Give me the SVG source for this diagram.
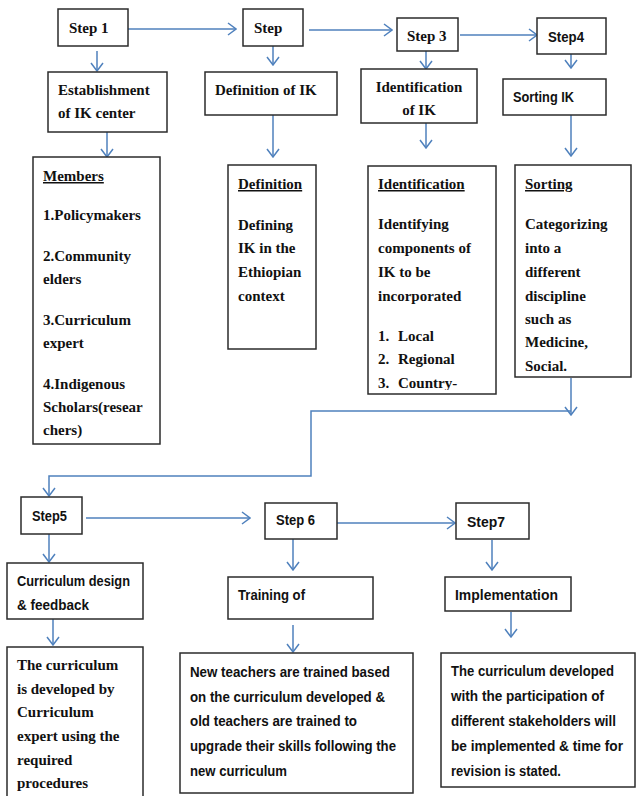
<svg xmlns="http://www.w3.org/2000/svg" width="636" height="796" viewBox="0 0 636 796">
<style>
.box{fill:#ffffff;stroke:#2b2b2b;stroke-width:1.5}
.conn{fill:none;stroke:#4f81bd;stroke-width:1.5}
.t{font-family:"Liberation Serif","Times New Roman",serif;font-weight:bold;font-size:15px;fill:#111}
.s{font-family:"Liberation Sans",Arial,sans-serif;font-weight:bold;font-size:14px;fill:#111}
.u{text-decoration:underline}
</style>
<defs>
<marker id="arr" viewBox="0 0 10 14" refX="9" refY="7" markerWidth="10" markerHeight="14" markerUnits="userSpaceOnUse" orient="auto">
<path d="M1,1 L9,7 L1,13" fill="none" stroke="#4f81bd" stroke-width="1.5"/>
</marker>
<clipPath id="clipIdent"><rect x="368" y="166" width="128" height="224"/></clipPath>
<clipPath id="clipSort"><rect x="515" y="165" width="116" height="207"/></clipPath>
</defs>
<rect width="636" height="796" fill="#ffffff"/>

<g id="connectors">
<path class="conn" d="M128,29 H236" marker-end="url(#arr)"/>
<path class="conn" d="M309,30 H392" marker-end="url(#arr)"/>
<path class="conn" d="M460,35 H537" marker-end="url(#arr)"/>
<path class="conn" d="M97,51 V71" marker-end="url(#arr)"/>
<path class="conn" d="M107,132 V157" marker-end="url(#arr)"/>
<path class="conn" d="M273,46 V65" marker-end="url(#arr)"/>
<path class="conn" d="M273,115 V157" marker-end="url(#arr)"/>
<path class="conn" d="M426,51 V69" marker-end="url(#arr)"/>
<path class="conn" d="M426,123 V148" marker-end="url(#arr)"/>
<path class="conn" d="M571,54 V68" marker-end="url(#arr)"/>
<path class="conn" d="M571,115 V156" marker-end="url(#arr)"/>
<path class="conn" d="M571,378 V415" marker-end="url(#arr)"/>
<path class="conn" d="M571,411 H311 V476 H49 V496" marker-end="url(#arr)"/>
<path class="conn" d="M86,518 H250" marker-end="url(#arr)"/>
<path class="conn" d="M337,523 H455" marker-end="url(#arr)"/>
<path class="conn" d="M49,534 V562" marker-end="url(#arr)"/>
<path class="conn" d="M53,619 V645" marker-end="url(#arr)"/>
<path class="conn" d="M293,539 V570" marker-end="url(#arr)"/>
<path class="conn" d="M293,625 V652" marker-end="url(#arr)"/>
<path class="conn" d="M492,540 V570" marker-end="url(#arr)"/>
<path class="conn" d="M511,612 V637" marker-end="url(#arr)"/>
</g>

<g id="step1"><rect class="box" x="58" y="9" width="70" height="37"/><text class="t" x="69" y="33">Step 1</text></g>
<g id="step2"><rect class="box" x="243" y="9" width="60" height="37"/><text class="t" x="254" y="33">Step</text></g>
<g id="step3"><rect class="box" x="397" y="18" width="61" height="33"/><text class="t" x="407" y="41">Step 3</text></g>
<g id="step4"><rect class="box" x="537" y="18" width="69" height="36"/><text class="s" x="548" y="42" textLength="36" lengthAdjust="spacingAndGlyphs">Step4</text></g>

<g id="establishment"><rect class="box" x="48" y="72" width="119" height="60"/>
<text class="t" x="58" y="95">Establishment</text><text class="t" x="58" y="118">of IK center</text></g>
<g id="definitionIK"><rect class="box" x="205" y="72" width="132" height="43"/>
<text class="t" x="215" y="95">Definition of IK</text></g>
<g id="identificationIK"><rect class="box" x="361" y="69" width="116" height="54"/>
<text class="t" x="419" y="92" text-anchor="middle">Identification</text><text class="t" x="419" y="115" text-anchor="middle">of IK</text></g>
<g id="sortingIK"><rect class="box" x="503" y="79" width="103" height="36"/>
<text class="s" x="513" y="102" textLength="61" lengthAdjust="spacingAndGlyphs">Sorting IK</text></g>

<g id="members"><rect class="box" x="33" y="157" width="127" height="287"/>
<text class="t u" x="43" y="181">Members</text>
<text class="t" x="43" y="220">1.Policymakers</text>
<text class="t" x="43" y="261">2.Community</text>
<text class="t" x="43" y="284">elders</text>
<text class="t" x="43" y="325">3.Curriculum</text>
<text class="t" x="43" y="348">expert</text>
<text class="t" x="43" y="389">4.Indigenous</text>
<text class="t" x="43" y="412">Scholars(resear</text>
<text class="t" x="43" y="435">chers)</text></g>

<g id="definition"><rect class="box" x="228" y="165" width="88" height="184"/>
<text class="t u" x="238" y="189">Definition</text>
<text class="t" x="238" y="230">Defining</text>
<text class="t" x="238" y="253">IK in the</text>
<text class="t" x="238" y="277">Ethiopian</text>
<text class="t" x="238" y="301">context</text></g>

<g id="identification"><rect class="box" x="368" y="166" width="128" height="228"/>
<g clip-path="url(#clipIdent)">
<text class="t u" x="378" y="189">Identification</text>
<text class="t" x="378" y="229">Identifying</text>
<text class="t" x="378" y="253">components of</text>
<text class="t" x="378" y="277">IK to be</text>
<text class="t" x="378" y="301">incorporated</text>
<text class="t" x="378" y="341">1.</text><text class="t" x="398" y="341">Local</text>
<text class="t" x="378" y="364">2.</text><text class="t" x="398" y="364">Regional</text>
<text class="t" x="378" y="388">3.</text><text class="t" x="398" y="388">Country-</text>
</g></g>

<g id="sorting"><rect class="box" x="515" y="165" width="116" height="212"/>
<g clip-path="url(#clipSort)">
<text class="t u" x="525" y="189">Sorting</text>
<text class="t" x="525" y="229">Categorizing</text>
<text class="t" x="525" y="253">into a</text>
<text class="t" x="525" y="277">different</text>
<text class="t" x="525" y="301">discipline</text>
<text class="t" x="525" y="324">such as</text>
<text class="t" x="525" y="347">Medicine,</text>
<text class="t" x="525" y="371">Social.</text>
</g></g>

<g id="step5"><rect class="box" x="21" y="497" width="61" height="37"/><text class="s" x="32" y="521" textLength="35" lengthAdjust="spacingAndGlyphs">Step5</text></g>
<g id="step6"><rect class="box" x="265" y="503" width="72" height="36"/><text class="s" x="276" y="525" textLength="39" lengthAdjust="spacingAndGlyphs">Step 6</text></g>
<g id="step7"><rect class="box" x="456" y="503" width="73" height="36"/><text class="s" x="467" y="527" textLength="38" lengthAdjust="spacingAndGlyphs">Step7</text></g>

<g id="curriculumDesign"><rect class="box" x="7" y="563" width="136" height="56"/>
<text class="s" x="17" y="586" textLength="113" lengthAdjust="spacingAndGlyphs">Curriculum design</text>
<text class="s" x="17" y="610" textLength="72" lengthAdjust="spacingAndGlyphs">&amp; feedback</text></g>
<g id="training"><rect class="box" x="228" y="577" width="145" height="42"/>
<text class="s" x="238" y="600" textLength="67" lengthAdjust="spacingAndGlyphs">Training of</text></g>
<g id="implementation"><rect class="box" x="445" y="577" width="126" height="34"/>
<text class="s" x="455" y="600" textLength="103" lengthAdjust="spacingAndGlyphs">Implementation</text></g>

<g id="curriculumDev"><rect class="box" x="7" y="647" width="136" height="160"/>
<text class="t" x="17" y="670">The curriculum</text>
<text class="t" x="17" y="694">is developed by</text>
<text class="t" x="17" y="717">Curriculum</text>
<text class="t" x="17" y="741">expert using the</text>
<text class="t" x="17" y="765">required</text>
<text class="t" x="17" y="788">procedures</text></g>

<g id="teachers"><rect class="box" x="180" y="653" width="233" height="140"/>
<text class="s" x="190" y="677" textLength="200" lengthAdjust="spacingAndGlyphs">New teachers are trained based</text>
<text class="s" x="190" y="702" textLength="195" lengthAdjust="spacingAndGlyphs">on the curriculum developed &amp;</text>
<text class="s" x="190" y="726" textLength="167" lengthAdjust="spacingAndGlyphs">old teachers are trained to</text>
<text class="s" x="190" y="751" textLength="206" lengthAdjust="spacingAndGlyphs">upgrade their skills following the</text>
<text class="s" x="190" y="776" textLength="97" lengthAdjust="spacingAndGlyphs">new curriculum</text></g>

<g id="implementDetail"><rect class="box" x="441" y="653" width="194" height="134"/>
<text class="s" x="451" y="676" textLength="163" lengthAdjust="spacingAndGlyphs">The curriculum developed</text>
<text class="s" x="451" y="701" textLength="153" lengthAdjust="spacingAndGlyphs">with the participation of</text>
<text class="s" x="451" y="726" textLength="165" lengthAdjust="spacingAndGlyphs">different stakeholders will</text>
<text class="s" x="451" y="751" textLength="172" lengthAdjust="spacingAndGlyphs">be implemented &amp; time for</text>
<text class="s" x="451" y="776" textLength="110" lengthAdjust="spacingAndGlyphs">revision is stated.</text></g>
</svg>
